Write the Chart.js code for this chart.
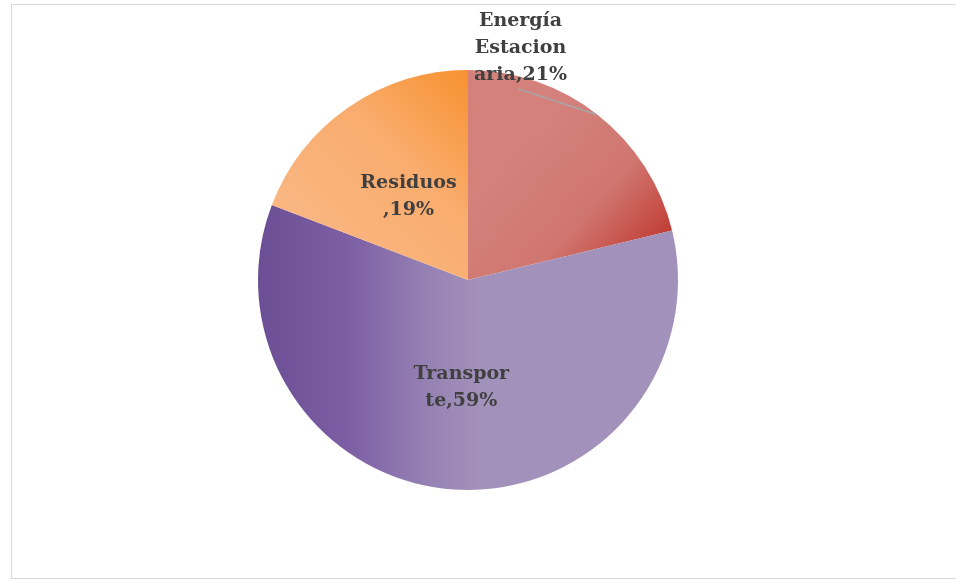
<!DOCTYPE html>
<html>
<head>
<meta charset="utf-8">
<script src="https://cdn.jsdelivr.net/npm/chart.js@4/dist/chart.umd.min.js"></script>
<style>
    html, body { margin: 0; padding: 0; background: #fff; }
    #wrap { position: relative; width: 956px; height: 581px; overflow: hidden; }
    #frame {
        position: absolute; left: 11px; top: 4px; width: 980px; height: 575px;
        border: 1px solid #d9d9d9; box-sizing: border-box;
    }
    #pieChart { position: absolute; left: 0; top: 0; }
</style>
</head>
<body>
<div id="wrap">
    <div id="frame"></div>
    <canvas id="pieChart" width="956" height="581"></canvas>
</div>
<script>
// Chart data
const categories = ['Energía Estacionaria', 'Transporte', 'Residuos'];
const shares = [21, 59, 19];

// Label placement: only the first slice has its label outside, with a leader line
const outsideLabels = [{ r: 0.99, dx: -76, dy: -69 }, null, null];

// Build a linear gradient for each slice, relative to the pie box
function sliceColor(context) {
    const chart = context.chart;
    const area = chart.chartArea;
    if (!area) return '#ccc';
    const c = chart.ctx;
    const cx = (area.left + area.right) / 2;
    const cy = (area.top + area.bottom) / 2;
    const r = Math.min(area.width, area.height) / 2;
    let g;
    if (context.dataIndex === 0) {
        g = c.createLinearGradient(cx + 0.35 * r, cy - 0.75 * r, cx + 0.95 * r, cy - 0.2 * r);
        g.addColorStop(0, '#d4817b');
        g.addColorStop(0.55, '#d07670');
        g.addColorStop(1, '#c13c34');
    } else if (context.dataIndex === 1) {
        g = c.createLinearGradient(cx - r, cy, cx + 0.05 * r, cy);
        g.addColorStop(0, '#6c4e95');
        g.addColorStop(0.4, '#7c5ea4');
        g.addColorStop(0.75, '#9480b3');
        g.addColorStop(1, '#a291ba');
    } else {
        g = c.createLinearGradient(cx - 0.8 * r, cy - 0.2 * r, cx, cy - r);
        g.addColorStop(0, '#f9b783');
        g.addColorStop(0.55, '#f9ac6d');
        g.addColorStop(1, '#f7912f');
    }
    return g;
}

// Wrap text to a max width, breaking long words like Excel does
function wrapText(ctx, text, maxWidth) {
    const lines = [];
    let line = '';
    text.split(' ').forEach(word => {
        const test = line ? line + ' ' + word : word;
        if (ctx.measureText(test).width <= maxWidth) {
            line = test;
            return;
        }
        if (line) lines.push(line);
        line = '';
        for (const ch of word) {
            if (ctx.measureText(line + ch).width > maxWidth && line) {
                lines.push(line);
                line = ch;
            } else {
                line += ch;
            }
        }
    });
    if (line) lines.push(line);
    return lines;
}

// Data labels plugin
const labelStyle = {
    font: 'bold 19px "DejaVu Serif"',
    color: '#404040',
    lineHeight: 27,
    maxWidth: 100,
    insideShift: 3
};

const pieLabels = {
    id: 'pieLabels',
    afterDatasetsDraw(chart) {
        const ctx = chart.ctx;
        const meta = chart.getDatasetMeta(0);
        ctx.save();
        ctx.font = labelStyle.font;
        ctx.textAlign = 'center';
        ctx.textBaseline = 'middle';
        meta.data.forEach((arc, i) => {
            const text = chart.data.labels[i] + ',' + chart.data.datasets[0].data[i] + '%';
            const lines = wrapText(ctx, text, labelStyle.maxWidth);
            let x, y;
            const place = outsideLabels[i];
            if (place) {
                const mid = (arc.startAngle + arc.endAngle) / 2;
                const ex = arc.x + Math.cos(mid) * arc.outerRadius * place.r;
                const ey = arc.y + Math.sin(mid) * arc.outerRadius * place.r;
                x = ex + place.dx;
                y = ey + place.dy;
                // leader line
                ctx.strokeStyle = '#a6a6a6';
                ctx.lineWidth = 1.5;
                ctx.beginPath();
                ctx.moveTo(x - 2, y + (lines.length / 2) * labelStyle.lineHeight + 1);
                ctx.lineTo(ex, ey - 2);
                ctx.stroke();
            } else {
                const p = arc.tooltipPosition();
                x = p.x;
                y = p.y + labelStyle.insideShift;
            }
            ctx.fillStyle = labelStyle.color;
            const top = y - (lines.length - 1) * labelStyle.lineHeight / 2;
            lines.forEach((l, k) => ctx.fillText(l, x, top + k * labelStyle.lineHeight));
        });
        ctx.restore();
    }
};

new Chart(document.getElementById('pieChart'), {
    type: 'pie',
    data: {
        labels: categories,
        datasets: [{
            data: shares,
            backgroundColor: sliceColor,
            borderWidth: 0,
            hoverOffset: 0
        }]
    },
    options: {
        responsive: false,
        animation: false,
        layout: { padding: { top: 70, bottom: 91, left: 258, right: 278 } },
        plugins: {
            legend: { display: false },
            tooltip: { enabled: false }
        }
    },
    plugins: [pieLabels]
});
</script>
</body>
</html>
